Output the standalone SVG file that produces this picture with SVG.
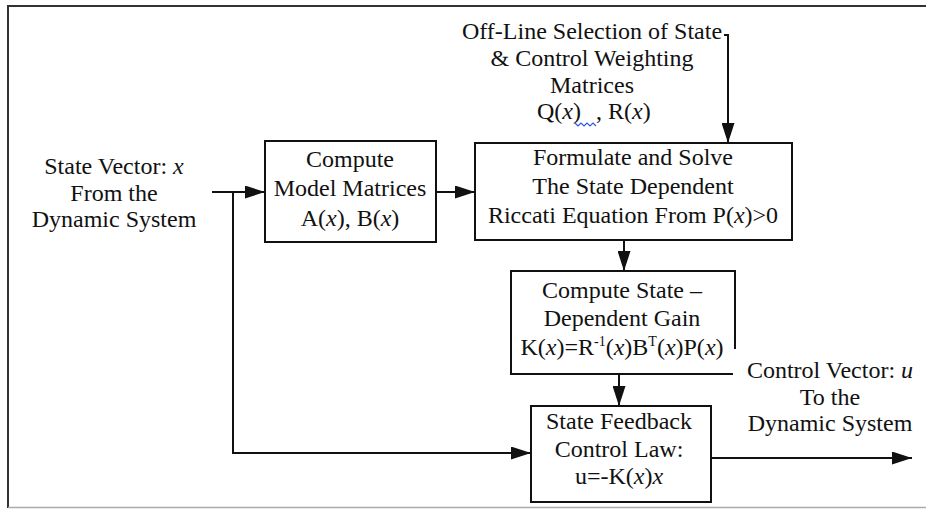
<svg xmlns="http://www.w3.org/2000/svg" width="926" height="510" viewBox="0 0 926 510">
<defs>
<style>
text{font-family:"Liberation Serif","Times New Roman",serif;font-size:24px;fill:#111;}
.c{text-anchor:middle;}
.i{font-style:italic;}
.box{fill:#fff;stroke:#111;stroke-width:2;}
.ln{fill:none;stroke:#111;stroke-width:2;}
.sup{font-size:14px;}
</style>
<marker id="arr" viewBox="0 0 20 13" refX="20" refY="6.5" markerWidth="20" markerHeight="13" markerUnits="userSpaceOnUse" orient="auto">
<path d="M0,0 L20,6.5 L0,13 Z" fill="#111"/>
</marker>
</defs>
<rect x="0" y="0" width="926" height="510" fill="#fff"/>
<g id="frame">
<path d="M926,6 H8 V508" fill="none" stroke="#333" stroke-width="2"/>
<path d="M8,507.5 H926" fill="none" stroke="#aaa" stroke-width="1.5"/>
</g>
<g id="input-label">
<text class="c" x="114" y="174">State Vector: <tspan class="i">x</tspan></text>
<text class="c" x="114" y="201">From the</text>
<text class="c" x="114" y="227">Dynamic System</text>
</g>
<g id="offline-label">
<text class="c" x="592" y="39">Off-Line Selection of State</text>
<text class="c" x="592" y="66">&amp; Control Weighting</text>
<text class="c" x="592" y="93">Matrices</text>
<text x="537" y="119">Q(<tspan class="i">x</tspan>)</text>
<text x="596" y="119">, R(<tspan class="i">x</tspan>)</text>
<path d="M575,123 l3,3 3,-3 3,3 3,-3 3,3 3,-3 3,3" fill="none" stroke="#3355dd" stroke-width="1.2"/>
</g>
<g id="model-matrices">
<rect class="box" x="265" y="141" width="171" height="101"/>
<text class="c" x="350" y="167">Compute</text>
<text class="c" x="350" y="196">Model Matrices</text>
<text class="c" x="350" y="226">A(<tspan class="i">x</tspan>), B(<tspan class="i">x</tspan>)</text>
</g>
<g id="riccati">
<rect class="box" x="475" y="143" width="317" height="97"/>
<text class="c" x="633" y="165">Formulate and Solve</text>
<text class="c" x="633" y="194">The State Dependent</text>
<text class="c" x="633" y="223">Riccati Equation From P(<tspan class="i">x</tspan>)&gt;0</text>
</g>
<g id="gain">
<path class="ln" d="M735,349 V271 H511 V374 H733"/>
<text class="c" x="622" y="298">Compute State –</text>
<text class="c" x="622" y="326">Dependent Gain</text>
<text class="c" x="622" y="355">K(<tspan class="i">x</tspan>)=R<tspan class="sup" dy="-9">-1</tspan><tspan dy="9">(</tspan><tspan class="i">x</tspan>)B<tspan class="sup" dy="-9">T</tspan><tspan dy="9">(</tspan><tspan class="i">x</tspan>)P(<tspan class="i">x</tspan>)</text>
</g>
<g id="feedback-law">
<rect class="box" x="531" y="406" width="180" height="96"/>
<text class="c" x="619" y="429">State Feedback</text>
<text class="c" x="619" y="457">Control Law:</text>
<text class="c" x="619" y="484">u=-K(<tspan class="i">x</tspan>)<tspan class="i">x</tspan></text>
</g>
<g id="output-label">
<text class="c" x="830" y="378">Control Vector: <tspan class="i">u</tspan></text>
<text class="c" x="830" y="405">To the</text>
<text class="c" x="830" y="431">Dynamic System</text>
</g>
<g id="connectors">
<path class="ln" d="M212,192 H265" marker-end="url(#arr)"/>
<path class="ln" d="M233,192 V453 H531" marker-end="url(#arr)"/>
<path class="ln" d="M436,192 H475" marker-end="url(#arr)"/>
<path class="ln" d="M724,35 H728 V143" marker-end="url(#arr)"/>
<path class="ln" d="M624,240 V271" marker-end="url(#arr)"/>
<path class="ln" d="M619,374 V406" marker-end="url(#arr)"/>
<path class="ln" d="M711,458 H912" marker-end="url(#arr)"/>
</g>
</svg>
